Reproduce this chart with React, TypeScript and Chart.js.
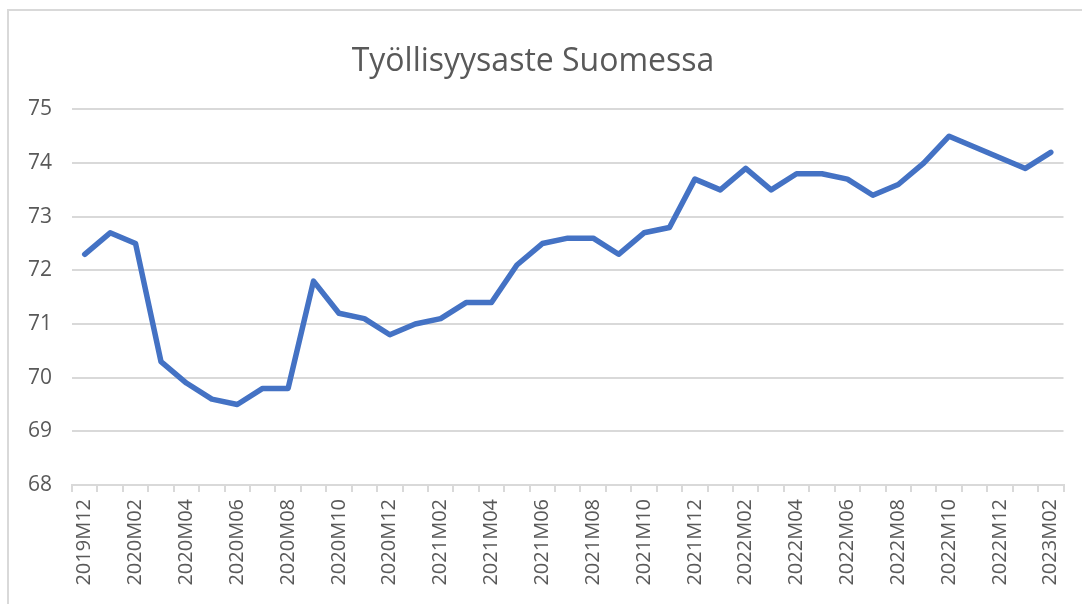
import React, { useEffect, useRef } from "react";
import { Chart, registerables } from "chart.js";

Chart.register(...registerables);

const TITLE = "Työllisyysaste Suomessa";

const categories: string[] = [
  "2019M12",
  "2020M01", "2020M02", "2020M03", "2020M04", "2020M05", "2020M06",
  "2020M07", "2020M08", "2020M09", "2020M10", "2020M11", "2020M12",
  "2021M01", "2021M02", "2021M03", "2021M04", "2021M05", "2021M06",
  "2021M07", "2021M08", "2021M09", "2021M10", "2021M11", "2021M12",
  "2022M01", "2022M02", "2022M03", "2022M04", "2022M05", "2022M06",
  "2022M07", "2022M08", "2022M09", "2022M10", "2022M11", "2022M12",
  "2023M01", "2023M02",
];

const employmentRate: number[] = [
  72.3,
  72.7, 72.5, 70.3, 69.9, 69.6, 69.5,
  69.8, 69.8, 71.8, 71.2, 71.1, 70.8,
  71.0, 71.1, 71.4, 71.4, 72.1, 72.5,
  72.6, 72.6, 72.3, 72.7, 72.8, 73.7,
  73.5, 73.9, 73.5, 73.8, 73.8, 73.7,
  73.4, 73.6, 74.0, 74.5, 74.3, 74.1,
  73.9, 74.2,
];

const yMin = 68;
const yMax = 75;
const yStep = 1;

const frameBorder = {
  id: "frameBorder",
  beforeDraw(chart: any) {
    const ctx = chart.ctx;
    ctx.save();
    ctx.fillStyle = "#ffffff";
    ctx.fillRect(0, 0, chart.width, chart.height);
    ctx.fillStyle = "#d9d9d9";
    ctx.fillRect(7, 9, 2, chart.height);
    ctx.fillRect(7, 9, chart.width, 2);
    ctx.restore();
  },
};

export default function App() {
  const ref = useRef<HTMLCanvasElement | null>(null);

  useEffect(() => {
    if (!ref.current) return;
    Chart.defaults.font.family = "'Open Sans', sans-serif";
    const chart = new Chart(ref.current, {
      type: "line",
      data: {
        labels: categories,
        datasets: [
          {
            label: TITLE,
            data: employmentRate,
            borderColor: "#4472C4",
            backgroundColor: "#4472C4",
            borderWidth: 5.5,
            pointRadius: 0,
            pointHoverRadius: 0,
            tension: 0,
            borderJoinStyle: "round",
            borderCapStyle: "round",
          },
        ],
      },
      options: {
        responsive: false,
        animation: false,
        layout: { padding: { left: 0, right: 16, top: 0, bottom: 0 } },
        plugins: {
          legend: { display: false },
          tooltip: { enabled: false },
          title: {
            display: true,
            text: TITLE,
            color: "#595959",
            font: { family: "'Open Sans', sans-serif", size: 32, weight: "normal" },
            padding: { top: 43, bottom: 28 },
          },
        },
        scales: {
          x: {
            type: "category",
            offset: true,
            grid: {
              display: true,
              offset: true,
              drawOnChartArea: false,
              drawTicks: true,
              tickLength: 7,
              color: "#d9d9d9",
              lineWidth: 2,
            },
            border: { display: true, color: "#d9d9d9", width: 2 },
            ticks: {
              autoSkip: false,
              minRotation: 90,
              maxRotation: 90,
              padding: 7,
              color: "#595959",
              font: { size: 20 },
              callback: (_v: any, i: number) => (i % 2 === 0 ? categories[i] : ""),
            },
            afterFit: (scale: any) => {
              scale.height = 119;
            },
          },
          y: {
            min: yMin,
            max: yMax,
            grid: {
              color: "#d9d9d9",
              lineWidth: 2,
              drawTicks: false,
            },
            border: { display: false },
            ticks: {
              stepSize: yStep,
              padding: 20,
              color: "#595959",
              font: { size: 21 },
            },
            afterFit: (scale: any) => {
              scale.width = 72;
            },
          },
        },
      },
      plugins: [frameBorder],
    });
    return () => chart.destroy();
  }, []);

  return (
    <div style={{ position: "fixed", left: 0, top: 0, width: 1082, height: 604, background: "#fff" }}>
      <canvas ref={ref} width={1082} height={604} style={{ display: "block", width: 1082, height: 604 }} />
    </div>
  );
}
